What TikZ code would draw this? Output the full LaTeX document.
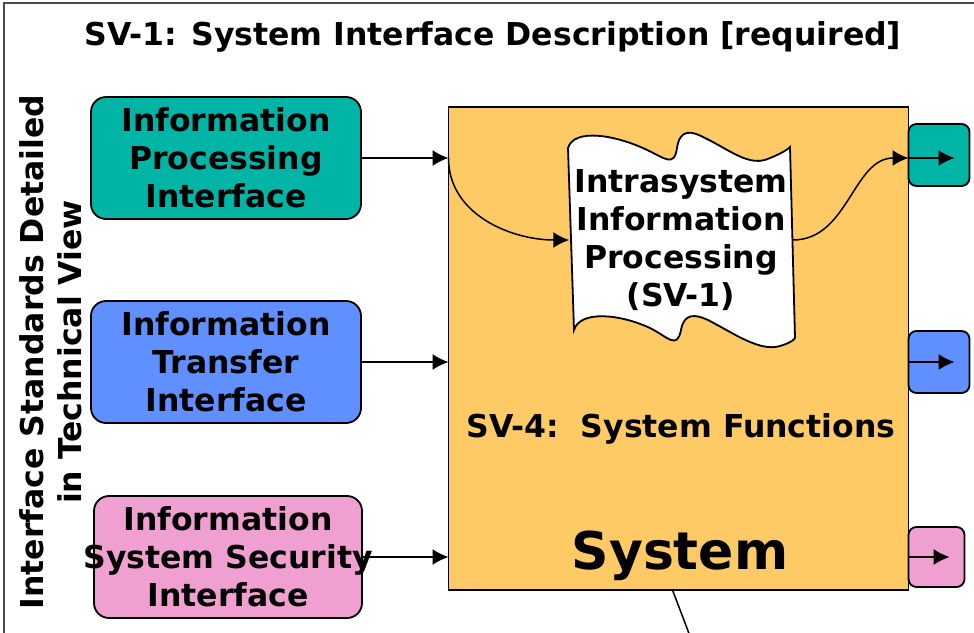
\documentclass[tikz,border=0pt]{standalone}
\usepackage{fontspec}
\setmainfont{DejaVu Sans}
\usetikzlibrary{arrows.meta,positioning}

\definecolor{ProcColor}{RGB}{0,181,165}
\definecolor{TransColor}{RGB}{96,144,255}
\definecolor{SecColor}{RGB}{240,160,208}
\definecolor{SysColor}{RGB}{254,202,102}

\begin{document}
\begin{tikzpicture}
      [
        x=0.5pt, y=-0.5pt,
        >={Latex[length=8pt, width=8pt]},
        font=\fontsize{15.75}{19}\selectfont\bfseries,
        line width=0.75pt,
        IfaceBlock/.style={draw, line width=0.9pt, rounded corners=7.5pt, minimum width=135pt, minimum height=61pt, align=center, inner sep=0pt, outer sep=0pt},
        PortBlock/.style={draw, line width=0.9pt, rounded corners=4pt, minimum width=30.5pt, minimum height=31pt, inner sep=0pt, outer sep=0pt, anchor=west},
      ]

      \clip (0,0) rectangle (974,632);
      \draw [line width=1pt, black!70] (4,3) rectangle (1000,700);

      \node (title) at (493,37) {SV-1: System Interface Description [required]};
      \node [rotate=90, align=center, inner sep=0pt] (side) at (51,352) {Interface Standards Detailed\\in Technical View};

      % interfaces on the left
      \node [IfaceBlock, fill=ProcColor] (proc) at (226,158) {Information\\Processing\\Interface};
      \node [IfaceBlock, fill=TransColor, below=41pt of proc] (trans) {Information\\Transfer\\Interface};
      \node [IfaceBlock, fill=SecColor, minimum width=134pt, minimum height=61pt] (sec) at (228,557) {};

      % the system
      \node [draw, line width=0.9pt, fill=SysColor, minimum width=230pt, minimum height=241.5pt, outer sep=0pt] (sys) at (678.5,348.5) {};

      \draw [fill=white, line width=0.9pt] (568,148) .. controls (574,128) and (615,135) .. (645,149)
        .. controls (665,158) and (674,168) .. (677,148)
        .. controls (680,128) and (692,131) .. (705,138)
        .. controls (730,150) and (750,168) .. (770,158)
        .. controls (785,152) and (789,148) .. (790,147)
        -- (795,338)
        .. controls (794,340) and (790,343) .. (780,346)
        .. controls (760,352) and (735,334) .. (708,320)
        .. controls (695,314) and (684,313) .. (681,330)
        .. controls (677,350) and (668,337) .. (650,328)
        .. controls (620,314) and (580,310) .. (574,330) -- cycle;
      \node [align=center, minimum width=111pt, minimum height=92pt, inner sep=0pt] (intra) at (681,240) {Intrasystem\\Information\\Processing\\(SV-1)};

      \node (func) at (681,429) {SV-4:\ \ System Functions};
      \node [font=\fontsize{26}{31}\selectfont\bfseries] (systxt) at (680,556) {System};

      % ports on the right
      \node [PortBlock, fill=ProcColor] (procout) at ([yshift=1.5pt]proc.east -| sys.east) {};
      \node [PortBlock, fill=TransColor] (transout) at (trans.east -| sys.east) {};
      \node [PortBlock, fill=SecColor, minimum width=28pt, minimum height=30pt] (secout) at (sec.east -| sys.east) {};

      \draw [->] (proc.east) -- (proc.east -| sys.west);
      \draw [->] (trans.east) -- (trans.east -| sys.west);
      \draw [->] (sec.east) -- (sec.east -| sys.west);
      \node [align=center] (seclabel) at (sec) {Information\\System Security\\Interface};

      \draw [->] (proc.east -| sys.west) to [out=-90, in=180] (intra.west);
      \draw [->] (intra.east) to [out=0, in=180] (proc.east -| sys.east);

      \draw [->, shorten >=7.5pt] (proc.east -| procout.west) -- (proc.east -| procout.east);
      \draw [->, shorten >=7.5pt] (transout.west) -- (transout.east);
      \draw [->, shorten >=7.5pt] (secout.west) -- (secout.east);

      \coordinate (sysfoot) at ([xshift=-3pt]sys.south);
      \coordinate (below) at (696,652);
      \draw (sysfoot) -- (below);
    \end{tikzpicture}
\end{document}
